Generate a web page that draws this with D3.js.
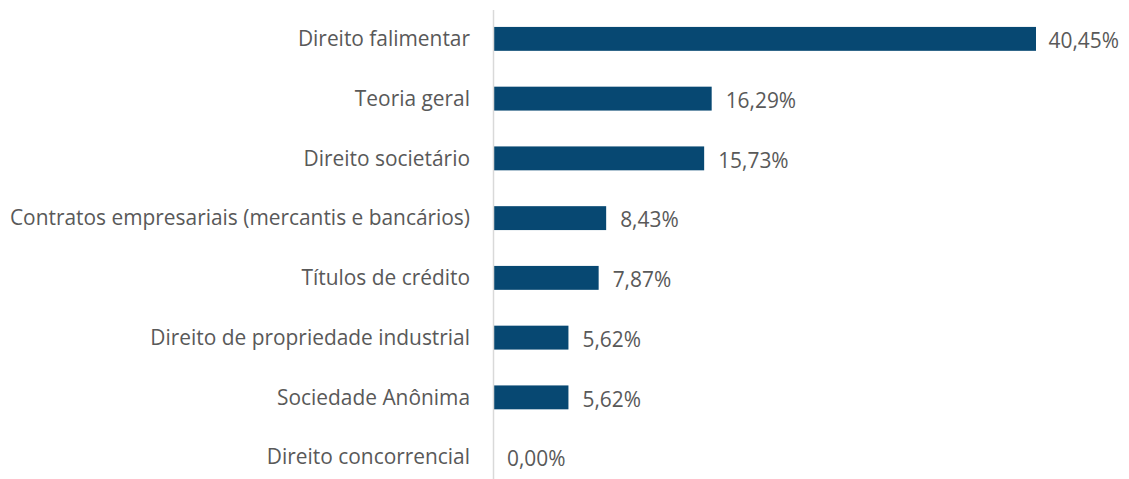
<!DOCTYPE html>
<html>
<head>
    <meta charset="utf-8">
    <script src="https://d3js.org/d3.v7.min.js"></script>
    <style>
        body {
            margin: 0;
            background: #fff;
            font-family: 'Open Sans';
        }

        .cat, .val {
            fill: #595959;
            font-size: 20.9px;
        }
    </style>
</head>

<body>
    <script>
        const categories = [
            'Direito falimentar',
            'Teoria geral',
            'Direito societário',
            'Contratos empresariais (mercantis e bancários)',
            'Títulos de crédito',
            'Direito de propriedade industrial',
            'Sociedade Anônima',
            'Direito concorrencial'
        ];
        const values = [40.45, 16.29, 15.73, 8.43, 7.87, 5.62, 5.62, 0.00];

        const width = 1129,
            height = 479;

        const left = 493;

        const x = d3.scaleLinear()
            .domain([0, 40.45])
            .range([left, 1036]);

        const y = d3.scaleBand()
            .domain(categories)
            .range([9, 487])
            .paddingInner(0.6)
            .paddingOuter(0.3);

        const fmt = v => d3.format('.2f')(v).replace('.', ',') + '%';

        const svg = d3.select('body').append('svg')
            .attr('width', width)
            .attr('height', height);

        svg.selectAll('rect.bar')
            .data(values)
            .join('rect')
            .attr('class', 'bar')
            .attr('x', x(0))
            .attr('y', (d, i) => y(categories[i]))
            .attr('width', d => x(d) - x(0))
            .attr('height', y.bandwidth())
            .attr('fill', '#074872');

        svg.append('line')
            .attr('x1', left + 0.5)
            .attr('x2', left + 0.5)
            .attr('y1', 10)
            .attr('y2', height)
            .attr('stroke', '#d9d9d9')
            .attr('stroke-width', 1.5);

        svg.selectAll('text.cat')
            .data(categories)
            .join('text')
            .attr('class', 'cat')
            .attr('x', 470)
            .attr('y', d => y(d) + y.bandwidth() / 2)
            .attr('dy', '0.35em')
            .attr('text-anchor', 'end')
            .text(d => d);

        // value labels, pushed back if they would run off the right edge
        svg.selectAll('text.val')
            .data(values)
            .join('text')
            .attr('class', 'val')
            .attr('y', (d, i) => y(categories[i]) + y.bandwidth() / 2 + 2)
            .attr('dy', '0.35em')
            .text(d => fmt(d))
            .attr('x', function (d) {
                const w = this.getComputedTextLength();
                return Math.min(x(d) + 14, width - 10 - w);
            });
    </script>
</body>

</html>
